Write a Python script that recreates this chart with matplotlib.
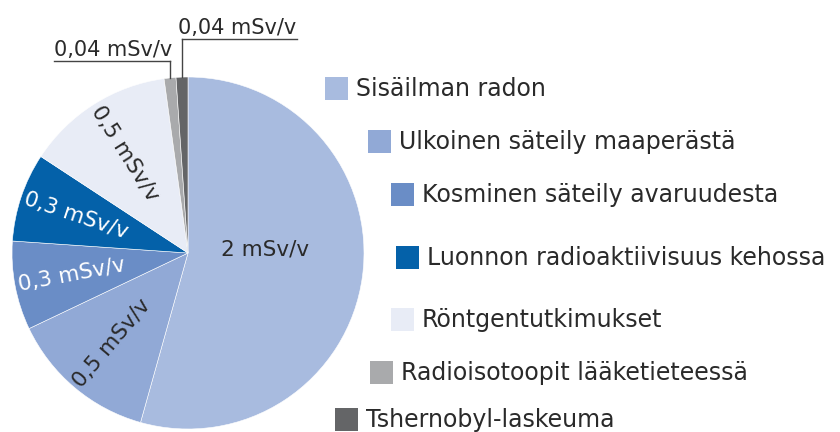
import matplotlib.pyplot as plt
from matplotlib.patches import Rectangle
import numpy as np

plt.rcParams["font.family"] = ["DejaVu Sans"]

# lähteet ja annokset (mSv/v)
nimet = ["Sisäilman radon", "Ulkoinen säteily maaperästä", "Kosminen säteily avaruudesta",
         "Luonnon radioaktiivisuus kehossa", "Röntgentutkimukset",
         "Radioisotoopit lääketieteessä", "Tshernobyl-laskeuma"]
arvot = [2, 0.5, 0.3, 0.3, 0.5, 0.04, 0.04]
tekstit = ["2 mSv/v", "0,5 mSv/v", "0,3 mSv/v", "0,3 mSv/v", "0,5 mSv/v", "0,04 mSv/v", "0,04 mSv/v"]
varit = ["#a8bbdf", "#91a9d6", "#6a8dc6", "#0461a9", "#e8ecf6", "#a9aaac", "#646567"]
tekstivarit = ["#2a2a2a", "#2a2a2a", "white", "white", "#2a2a2a"]

W, H = 840, 432
cx, cy, R = 188, 253, 176
fig = plt.figure(figsize=(W / 100, H / 100), dpi=100)
ax = fig.add_axes([0, 0, 1, 1])

wedges, texts = ax.pie(arvot, colors=varit, startangle=90, counterclock=False,
                       labels=tekstit[:5] + ["", ""], labeldistance=0.67, rotatelabels=True,
                       wedgeprops=dict(edgecolor="white", linewidth=0.4),
                       textprops=dict(fontsize=15.5))
ax.set_xlim(-cx / R, (W - cx) / R)
ax.set_ylim(-(H - cy) / R, cy / R)
ax.set_aspect("equal")
ax.axis("off")

for t, c in zip(texts, tekstivarit):
    t.set_color(c)
    t.set_ha("center")
    t.set_va("center")
texts[0].set_rotation(0)
texts[0].set_position((0.44, 0.02))

# pienet siivut: selitteet viivoilla
for w, txt, ly, tx, x1 in [(wedges[5], tekstit[5], 1.091, -0.761, None),
                           (wedges[6], tekstit[6], 1.216, -0.057, 0.62)]:
    a = np.deg2rad((w.theta1 + w.theta2) / 2)
    x = np.cos(a)
    ax.plot([x, x], [np.sin(a), ly], color="#444444", lw=1)
    if x1 is None:
        ax.plot([tx, x], [ly, ly], color="#444444", lw=1)
    else:
        ax.plot([x, x1], [ly, ly], color="#444444", lw=1)
    ax.text(tx, ly + 0.03, txt, fontsize=15, color="#2a2a2a", ha="left", va="baseline")

# porrastettu selite
sel_x = [325, 368, 391, 396, 391, 370, 335]
sel_y = [89, 142, 195, 258, 320, 373, 420]
for nimi, vari, px, py in zip(nimet, varit, sel_x, sel_y):
    fig.patches.append(Rectangle((px / W, 1 - (py + 11) / H), 23 / W, 23 / H,
                                 transform=fig.transFigure, facecolor=vari, edgecolor="none"))
    fig.text((px + 31) / W, 1 - py / H, nimi, fontsize=17, color="#2a2a2a",
             ha="left", va="center")

plt.savefig("out.png", dpi=100)
